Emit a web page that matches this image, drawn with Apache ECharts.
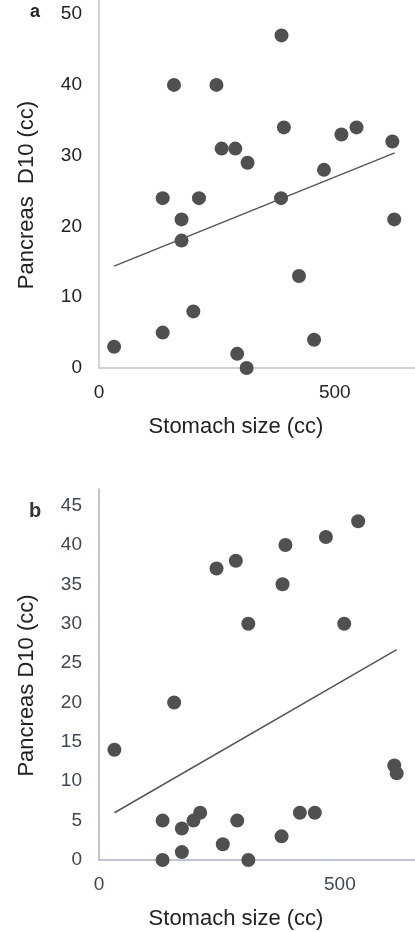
<!DOCTYPE html>
<html><head><meta charset="utf-8">
<script src="https://cdn.jsdelivr.net/npm/echarts@6/dist/echarts.min.js"></script>
<style>html,body{margin:0;padding:0;background:#fff}#c{width:415px;height:932px}</style>
</head><body><div id="c"></div>
<script>
// Panel a
const aStomach = [387,159,249,392,546,514,622,260,289,315,477,135,212,386,175,626,175,424,200,135,32,456,293,313];
const aPancreas = [47,40,40,34,34,33,32,31,31,29,28,24,24,24,21,21,18,13,8,5,3,4,2,0];
const aTrendX = [32,627];
const aTrendY = [14.4,30.4];
// Panel b
const bStomach = [538,471,387,284,244,381,310,509,156,32,613,618,132,172,196,210,287,417,448,379,257,172,132,310];
const bPancreas = [43,41,40,38,37,35,30,30,20,14,12,11,5,4,5,6,5,6,6,3,2,1,0,0];
const bTrendX = [32,618];
const bTrendY = [6,26.7];
const aYTicks = [0,10,20,30,40,50];
const bYTicks = [0,5,10,15,20,25,30,35,40,45];
const xTicks = [0,500];

const zip = (xs, ys) => xs.map((x, i) => [x, ys[i]]);
const font = 'Liberation Sans, Arial, sans-serif';
function xAx(gi, max, color, lc) {
  return {type:'value', gridIndex:gi, min:0, max:max, interval:500,
    axisLine:{show:true, lineStyle:{color:lc, width:1.5}}, axisTick:{show:false}, splitLine:{show:false},
    axisLabel:{color:color, fontSize:19, fontFamily:font, margin:15, showMaxLabel:false,
      formatter: v => xTicks.includes(v) ? String(v) : ''},
    name:'Stomach size (cc)', nameLocation:'middle', nameGap:48,
    nameTextStyle:{color:'#222', fontSize:22, fontFamily:font, padding:[0,42,0,0]}};
}
function yAx(gi, max, interval, ticks, name, color, lc) {
  return {type:'value', gridIndex:gi, min:0, max:max, interval:interval,
    axisLine:{show:true, lineStyle:{color:lc, width:1.5}}, axisTick:{show:false}, splitLine:{show:false},
    axisLabel:{color:color, fontSize:19, fontFamily:font, margin:17, showMaxLabel:false,
      formatter: v => ticks.includes(v) ? String(v) : ''},
    name:name, nameLocation:'middle', nameGap:61,
    nameTextStyle:{color:'#222', fontSize:22, fontFamily:font, padding:[0,22,0,0]}};
}
const chart = echarts.init(document.getElementById('c'), null, {renderer:'canvas'});
chart.setOption({
  animation:false,
  backgroundColor:'#fff',
  grid:[{left:99, right:0, top:0, height:368}, {left:99, right:0, top:489, height:371}],
  xAxis:[xAx(0, 670, '#222', '#c4c4c4'), xAx(1, 656, '#404654', '#a9b3c9')],
  yAxis:[yAx(0, 52, 10, aYTicks, 'Pancreas  D10 (cc)', '#222', '#c4c4c4'),
         yAx(1, 47.1, 5, bYTicks, 'Pancreas D10 (cc)', '#404654', '#a9b3c9')],
  graphic:[
    {type:'text', left:30, top:3, style:{text:'a', font:'bold 18px Liberation Sans', fill:'#222'}},
    {type:'text', left:29, top:501, style:{text:'b', font:'bold 20px Liberation Sans', fill:'#333'}}
  ],
  series:[
    {type:'scatter', xAxisIndex:0, yAxisIndex:0, data:zip(aStomach, aPancreas), symbolSize:14, itemStyle:{color:'#505050', opacity:1}},
    {type:'line', xAxisIndex:0, yAxisIndex:0, data:zip(aTrendX, aTrendY), symbol:'none', lineStyle:{color:'#555', width:1.5}},
    {type:'scatter', xAxisIndex:1, yAxisIndex:1, data:zip(bStomach, bPancreas), symbolSize:14, itemStyle:{color:'#505050', opacity:1}},
    {type:'line', xAxisIndex:1, yAxisIndex:1, data:zip(bTrendX, bTrendY), symbol:'none', lineStyle:{color:'#555', width:1.5}}
  ]
});
</script></body></html>
